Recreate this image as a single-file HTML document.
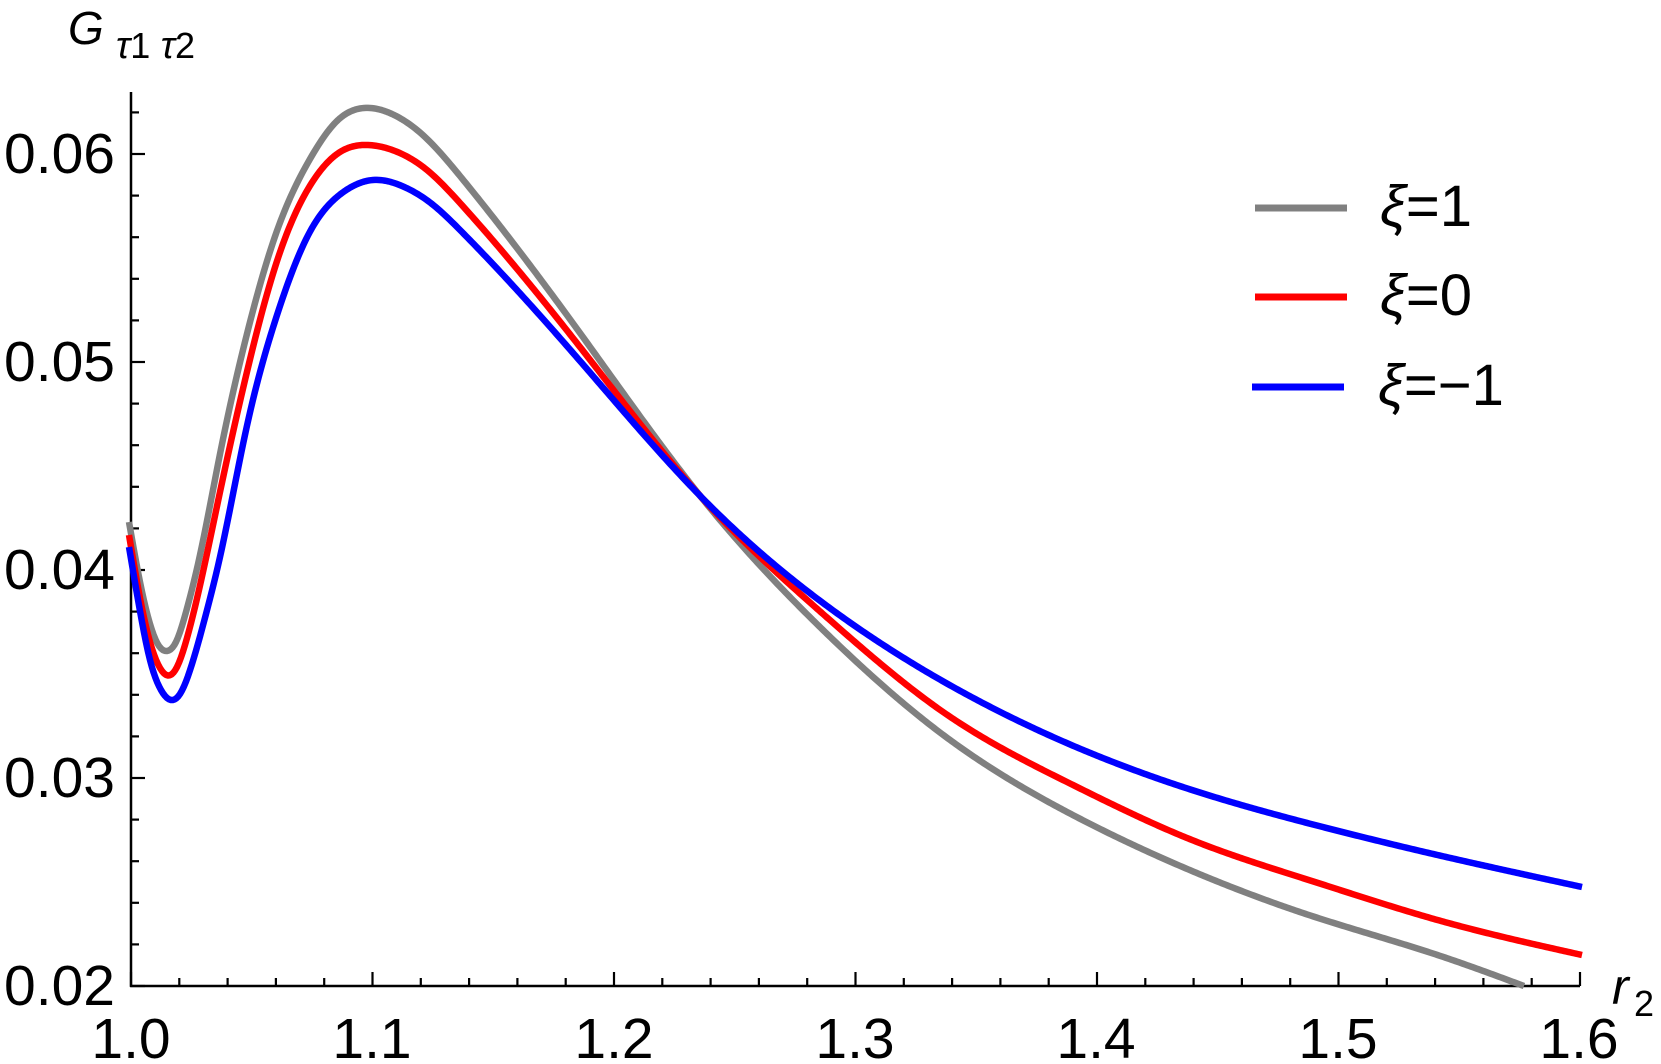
<!DOCTYPE html>
<html><head><meta charset="utf-8"><style>
html,body{margin:0;padding:0;background:#fff;}
svg{display:block;}
text{font-family:"Liberation Sans",sans-serif;fill:#000;}
</style></head><body>
<svg id="s" width="1661" height="1064" viewBox="0 0 1661 1064" xmlns="http://www.w3.org/2000/svg">
<g id="axes" stroke="#000" stroke-width="2.5" fill="none">
<line x1="131" y1="92" x2="131" y2="987"/>
<line x1="130" y1="986" x2="1580" y2="986"/>
</g>
<g id="ticks" stroke="#000" stroke-width="2.2"></g>
<g font-size="57">
<text x="115" y="986" text-anchor="end" dominant-baseline="central">0.02</text>
<text x="115" y="778" text-anchor="end" dominant-baseline="central">0.03</text>
<text x="115" y="570" text-anchor="end" dominant-baseline="central">0.04</text>
<text x="115" y="362" text-anchor="end" dominant-baseline="central">0.05</text>
<text x="115" y="154" text-anchor="end" dominant-baseline="central">0.06</text>
<text x="131" y="1058" text-anchor="middle">1.0</text>
<text x="372" y="1058" text-anchor="middle">1.1</text>
<text x="614" y="1058" text-anchor="middle">1.2</text>
<text x="855" y="1058" text-anchor="middle">1.3</text>
<text x="1096" y="1058" text-anchor="middle">1.4</text>
<text x="1338" y="1058" text-anchor="middle">1.5</text>
<text x="1579" y="1058" text-anchor="middle">1.6</text>
</g>
<text x="68" y="44" font-size="46" font-style="italic">G</text>
<text x="116" y="58" font-size="38" font-style="italic">τ<tspan font-style="normal" font-size="36">1</tspan> τ<tspan font-style="normal" font-size="36">2</tspan></text>
<text x="1612" y="1004" font-size="50" font-style="italic">r</text>
<text x="1634" y="1016" font-size="36">2</text>
<g stroke-width="6.5" fill="none" stroke-linejoin="round">
<path id="pg" stroke="#808080"/>
<path id="pr" stroke="#ff0000"/>
<path id="pb" stroke="#0000ff"/>
</g>
<g stroke-width="7">
<line x1="1255" y1="208" x2="1347" y2="208" stroke="#808080"/>
<line x1="1255" y1="297" x2="1347" y2="297" stroke="#ff0000"/>
<line x1="1252" y1="387" x2="1344" y2="387" stroke="#0000ff"/>
</g>
<g font-size="58">
<text x="1380" y="226"><tspan font-style="italic">ξ</tspan>=1</text>
<text x="1380" y="315"><tspan font-style="italic">ξ</tspan>=0</text>
<text x="1378" y="405"><tspan font-style="italic">ξ</tspan>=−1</text>
</g>
</svg>
<script>
var t=document.getElementById('ticks'),h='';
for(var i=0;i<=30;i++){var x=131+i*241.5/5;var L=(i%5==0)?14:8;h+='<line x1="'+x+'" y1="986" x2="'+x+'" y2="'+(986-L)+'"/>';}
for(var j=0;j<=21;j++){var y=986-j*41.6;if(y<95)break;var L=(j%5==0)?14:8;h+='<line x1="131" y1="'+y+'" x2="'+(131+L)+'" y2="'+y+'"/>';}
t.innerHTML=h;
function spl(p){var n=p.length,x=p.map(function(a){return a[0]}),y=p.map(function(a){return a[1]});
var hh=[],al=[],l=[1],mu=[0],z=[0],c=new Array(n).fill(0),b=[],d=[];
for(var i=0;i<n-1;i++)hh[i]=x[i+1]-x[i];
for(var i=1;i<n-1;i++)al[i]=3/hh[i]*(y[i+1]-y[i])-3/hh[i-1]*(y[i]-y[i-1]);
for(var i=1;i<n-1;i++){l[i]=2*(x[i+1]-x[i-1])-hh[i-1]*mu[i-1];mu[i]=hh[i]/l[i];z[i]=(al[i]-hh[i-1]*z[i-1])/l[i];}
l[n-1]=1;z[n-1]=0;
for(var j=n-2;j>=0;j--){c[j]=z[j]-mu[j]*c[j+1];b[j]=(y[j+1]-y[j])/hh[j]-hh[j]*(c[j+1]+2*c[j])/3;d[j]=(c[j+1]-c[j])/(3*hh[j]);}
var s='M'+x[0]+','+y[0];
for(var i=0;i<n-1;i++){var m=Math.max(2,Math.ceil(hh[i]/2));for(var k=1;k<=m;k++){var dx=hh[i]*k/m;s+=' L'+(x[i]+dx).toFixed(2)+','+(y[i]+b[i]*dx+c[i]*dx*dx+d[i]*dx*dx*dx).toFixed(2);}}
return s;}
var G=[[129,522],[140,582],[150,624],[159,646],[167,651],[176,642],[186,612],[200,555],[220,454],[246.7,335],[276.7,231.6],[310,159],[338,120],[364,108],[392,114],[425,137],[460,176],[580,333],[700,495.7],[823,630],[946,737],[1069,813],[1192,871],[1315,917],[1437.5,955],[1524,986]];
var R=[[129,535],[140,598],[150,642],[160,668],[168,675.5],[177,667],[187,638],[201,581],[220,492],[246.7,373],[276.7,262],[310,185.7],[340,152],[368,145],[395,151],[427,170],[460,203],[580,347],[700,495.7],[823,614],[946,714],[1069,783],[1192,840],[1315,882],[1437.5,920],[1582,955]];
var B=[[129,547],[140,611],[150,660],[161,690],[171,700],[180,694],[192,664],[206,614],[220,557],[246.7,427],[276.7,316],[310,231.6],[342,193],[373,180],[402,186],[432,204],[460,230],[580,361],[700,495.7],[823,603],[946,683],[1069,744],[1192,790],[1315,825],[1437.5,855],[1582,887]];
document.getElementById('pg').setAttribute('d',spl(G));
document.getElementById('pr').setAttribute('d',spl(R));
document.getElementById('pb').setAttribute('d',spl(B));
</script>
</body></html>
